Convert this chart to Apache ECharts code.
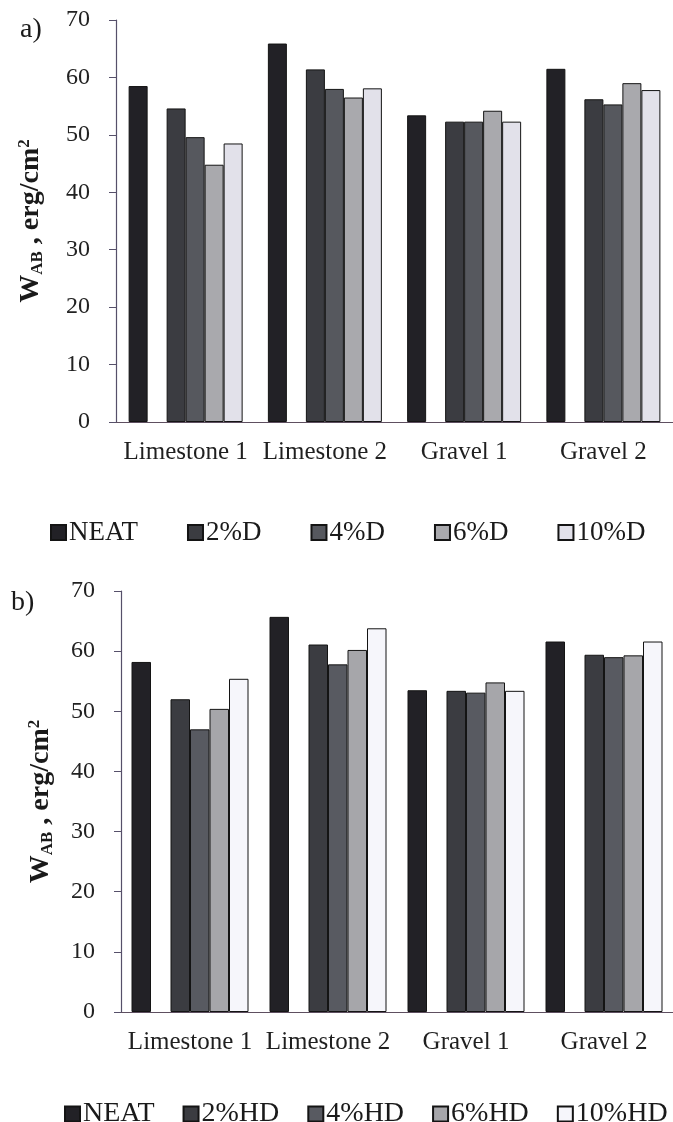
<!DOCTYPE html>
<html>
<head>
<meta charset="utf-8">
<title>WAB</title>
<script src="https://cdn.jsdelivr.net/npm/echarts@6/dist/echarts.min.js"></script>
<style>
body{margin:0;background:#fff;}
#main{width:673px;height:1122px;}
</style>
</head>
<body>
<div id="main"></div>
<script>
// categories
var cats = ['Limestone 1', 'Limestone 2', 'Gravel 1', 'Gravel 2'];
var yTicks = [0, 10, 20, 30, 40, 50, 60, 70];

// a) D
var namesA = ['NEAT', '2%D', '4%D', '6%D', '10%D'];
var neatA = [58.5, 65.9, 53.4, 61.5];
var d2 = [54.6, 61.4, 52.3, 56.2];
var d4 = [49.6, 58.0, 52.3, 55.3];
var d6 = [44.8, 56.5, 54.2, 59.0];
var d10 = [48.5, 58.1, 52.3, 57.8];

// b) HD
var namesB = ['NEAT', '2%HD', '4%HD', '6%HD', '10%HD'];
var neatB = [58.2, 65.7, 53.5, 61.6];
var hd2 = [52.0, 61.1, 53.4, 59.4];
var hd4 = [47.0, 57.8, 53.1, 59.0];
var hd6 = [50.4, 60.2, 54.8, 59.3];
var hd10 = [55.4, 63.8, 53.4, 61.6];

var colorsA = ['#222126', '#3b3c41', '#56585e', '#a9a9ad', '#e2e1ea'];
var colorsB = ['#222126', '#3b3c41', '#585a61', '#a6a6aa', '#f6f6fb'];

var font = "'Liberation Serif', 'Times New Roman', serif";
var axisColor = '#56506a';

function bars(names, datas, colors, idx, w) {
	var list = [];
	for (var i = 0; i < names.length; i++) {
		list.push({
			name: names[i], type: 'bar', xAxisIndex: idx, yAxisIndex: idx,
			barWidth: w, barGap: '0%',
			itemStyle: {color: colors[i], borderColor: '#141414', borderWidth: 1},
			data: datas[i]
		});
		// empty slot after NEAT
		if (i == 0) {
			list.push({name: 'gap' + idx, type: 'bar', xAxisIndex: idx, yAxisIndex: idx,
				barWidth: w, barGap: '0%', data: [null, null, null, null]});
		}
	}
	return list;
}

function yName() {
	return {
		name: '{w|W}{s|AB}{w| , erg/cm}{p|2}',
		nameLocation: 'middle', nameRotate: 90,
		nameTextStyle: {
			rich: {
				w: {fontFamily: font, fontSize: 28, fontWeight: 'bold', color: '#1a1a1a', lineHeight: 30},
				s: {fontFamily: font, fontSize: 17, fontWeight: 'bold', color: '#1a1a1a', verticalAlign: 'bottom', lineHeight: 10},
				p: {fontFamily: font, fontSize: 17, fontWeight: 'bold', color: '#1a1a1a', verticalAlign: 'top', lineHeight: 12}
			}
		}
	};
}

function yAxis(idx, gap) {
	var y = yName();
	y.gridIndex = idx;
	y.type = 'value';
	y.min = 0; y.max = 70; y.interval = 10;
	y.nameGap = gap;
	y.axisLine = {show: true, lineStyle: {color: axisColor, width: 1.2}};
	y.axisTick = {show: true, length: 7, lineStyle: {color: axisColor}};
	y.splitLine = {show: false};
	y.axisLabel = {fontFamily: font, fontSize: 24, color: '#222', margin: 26,
		formatter: function (v) { return yTicks.indexOf(v) >= 0 ? v : ''; }};
	return y;
}

function xAxis(idx) {
	return {
		gridIndex: idx, type: 'category', data: cats,
		axisLine: {lineStyle: {color: '#5e4f60', width: 1.2}},
		axisTick: {show: false},
		axisLabel: {fontFamily: font, fontSize: 25, color: '#1f1f1f', margin: 18, interval: 0}
	};
}

var myChart = echarts.init(document.getElementById('main'));
var option = {
	backgroundColor: '#fff',
	animation: false,
	title: [
		{text: 'a)', left: 15, top: 11, textStyle: {fontFamily: font, fontSize: 28, fontWeight: 'normal', color: '#1a1a1a'}},
		{text: 'b)', left: 6, top: 584, textStyle: {fontFamily: font, fontSize: 28, fontWeight: 'normal', color: '#1a1a1a'}}
	],
	grid: [
		{left: 116, top: 20, width: 560, height: 402},
		{left: 121, top: 591, width: 569, height: 421}
	],
	legend: [
		{data: namesA, left: 45, top: 514, itemWidth: 15, itemHeight: 15, itemGap: 49, icon: 'rect',
			textStyle: {fontFamily: font, fontSize: 27, color: '#1a1a1a', padding: [0, 0, 0, -2]}},
		{data: namesB, left: 59, top: 1095, itemWidth: 15, itemHeight: 15, itemGap: 28, icon: 'rect',
			textStyle: {fontFamily: font, fontSize: 28, color: '#1a1a1a', padding: [0, 0, 0, -2]}}
	],
	xAxis: [xAxis(0), xAxis(1)],
	yAxis: [yAxis(0, 70), yAxis(1, 65)],
	series: bars(namesA, [neatA, d2, d4, d6, d10], colorsA, 0, 19)
		.concat(bars(namesB, [neatB, hd2, hd4, hd6, hd10], colorsB, 1, 19.5))
};
myChart.setOption(option);
</script>
</body>
</html>
